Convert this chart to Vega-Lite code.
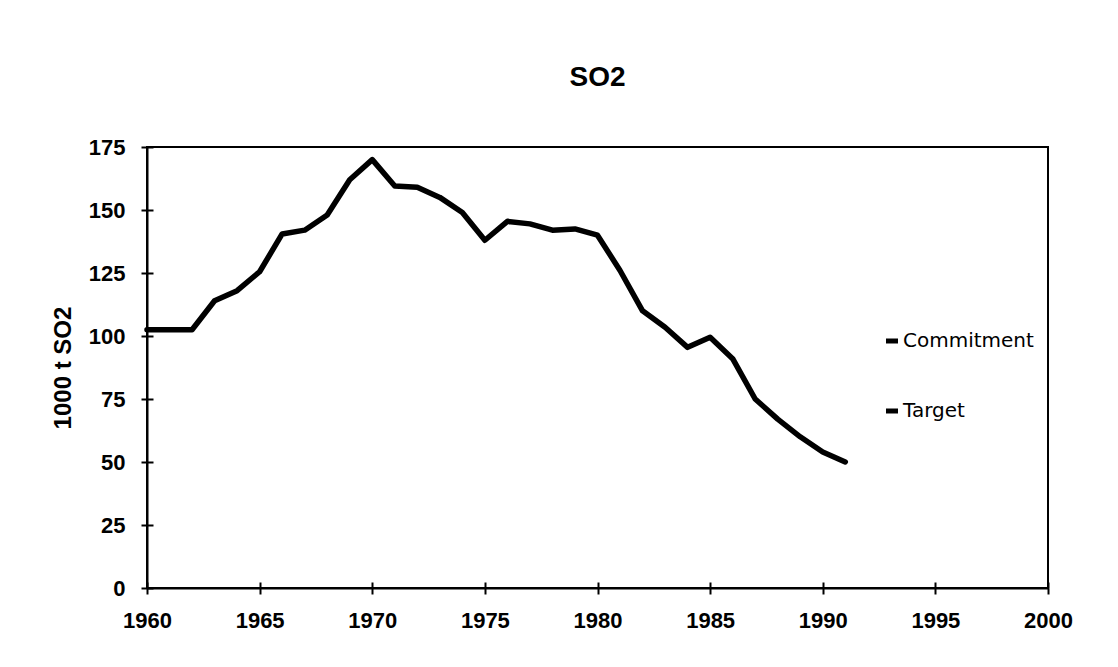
{
  "$schema": "https://vega.github.io/schema/vega-lite/v6.json",
  "autosize": "none",
  "padding": {"left": 147, "top": 147, "right": 70, "bottom": 79},
  "width": 901,
  "height": 441,
  "background": "white",
  "title": {"text": "SO2", "fontSize": 28, "fontWeight": "bold", "font": "Liberation Sans", "color": "black", "anchor": "middle", "baseline": "alphabetic", "offset": 22},
  "datasets": {
    "so2": [
      {"year": 1960, "value": 102.5}, {"year": 1961, "value": 102.5}, {"year": 1962, "value": 102.5},
      {"year": 1963, "value": 114}, {"year": 1964, "value": 118}, {"year": 1965, "value": 125.5},
      {"year": 1966, "value": 140.5}, {"year": 1967, "value": 142}, {"year": 1968, "value": 148},
      {"year": 1969, "value": 162}, {"year": 1970, "value": 170}, {"year": 1971, "value": 159.5},
      {"year": 1972, "value": 159}, {"year": 1973, "value": 155}, {"year": 1974, "value": 149},
      {"year": 1975, "value": 138}, {"year": 1976, "value": 145.5}, {"year": 1977, "value": 144.5},
      {"year": 1978, "value": 142}, {"year": 1979, "value": 142.5}, {"year": 1980, "value": 140},
      {"year": 1981, "value": 126}, {"year": 1982, "value": 110}, {"year": 1983, "value": 103.5},
      {"year": 1984, "value": 95.5}, {"year": 1985, "value": 99.5}, {"year": 1986, "value": 91},
      {"year": 1987, "value": 75}, {"year": 1988, "value": 67}, {"year": 1989, "value": 60},
      {"year": 1990, "value": 54}, {"year": 1991, "value": 50}
    ],
    "legend": [{"series": "Commitment"}, {"series": "Target"}]
  },
  "resolve": {"axis": {"x": "independent", "y": "independent"}},
  "layer": [
    {
      "data": {"name": "so2"},
      "mark": {"type": "line", "color": "black", "strokeWidth": 5.5, "strokeJoin": "round", "strokeCap": "round"},
      "encoding": {
        "x": {"field": "year", "type": "quantitative", "scale": {"domain": [1960, 2000], "nice": false, "zero": false},
              "axis": {"orient": "bottom", "values": [1960, 1965, 1970, 1975, 1980, 1985, 1990, 1995, 2000], "format": "d", "title": null, "labelPadding": 16, "labelFlush": false}},
        "y": {"field": "value", "type": "quantitative", "scale": {"domain": [0, 175], "nice": false},
              "axis": {"orient": "left", "values": [0, 25, 50, 75, 100, 125, 150, 175], "title": "1000 t SO2", "titlePadding": 13, "labelPadding": 16, "labelFlush": false}}
      }
    },
    {
      "data": {"name": "so2"},
      "mark": {"type": "line", "opacity": 0},
      "encoding": {
        "x": {"field": "year", "type": "quantitative",
              "axis": {"orient": "bottom", "offset": -6, "values": [1960, 1965, 1970, 1975, 1980, 1985, 1990, 1995, 2000], "labels": false, "domain": false, "title": null}},
        "y": {"field": "value", "type": "quantitative",
              "axis": {"orient": "left", "offset": -6, "values": [0, 25, 50, 75, 100, 125, 150, 175], "labels": false, "domain": false, "title": null}}
      }
    },
    {
      "data": {"name": "legend"},
      "mark": {"type": "point", "opacity": 0},
      "encoding": {
        "color": {"field": "series", "type": "nominal",
                  "scale": {"domain": ["Commitment", "Target"], "range": ["black", "black"]},
                  "legend": {"title": null, "orient": "none", "legendX": 735, "legendY": 184,
                             "symbolType": "stroke", "symbolSize": 144, "symbolStrokeWidth": 5, "symbolOpacity": 1,
                             "symbolStrokeColor": "black",
                             "labelFontSize": 20, "labelFont": "DejaVu Sans", "labelColor": "black",
                             "labelOffset": 1, "rowPadding": 50}}
      }
    }
  ],
  "config": {
    "view": {"stroke": "black", "strokeWidth": 2},
    "axis": {
      "grid": false,
      "domainColor": "black", "domainWidth": 2,
      "tickColor": "black", "tickWidth": 2, "tickSize": 6,
      "labelFont": "Liberation Sans", "labelFontSize": 22, "labelFontWeight": "bold", "labelColor": "black",
      "titleFont": "Liberation Sans", "titleFontSize": 24, "titleFontWeight": "bold", "titleColor": "black"
    }
  }
}
